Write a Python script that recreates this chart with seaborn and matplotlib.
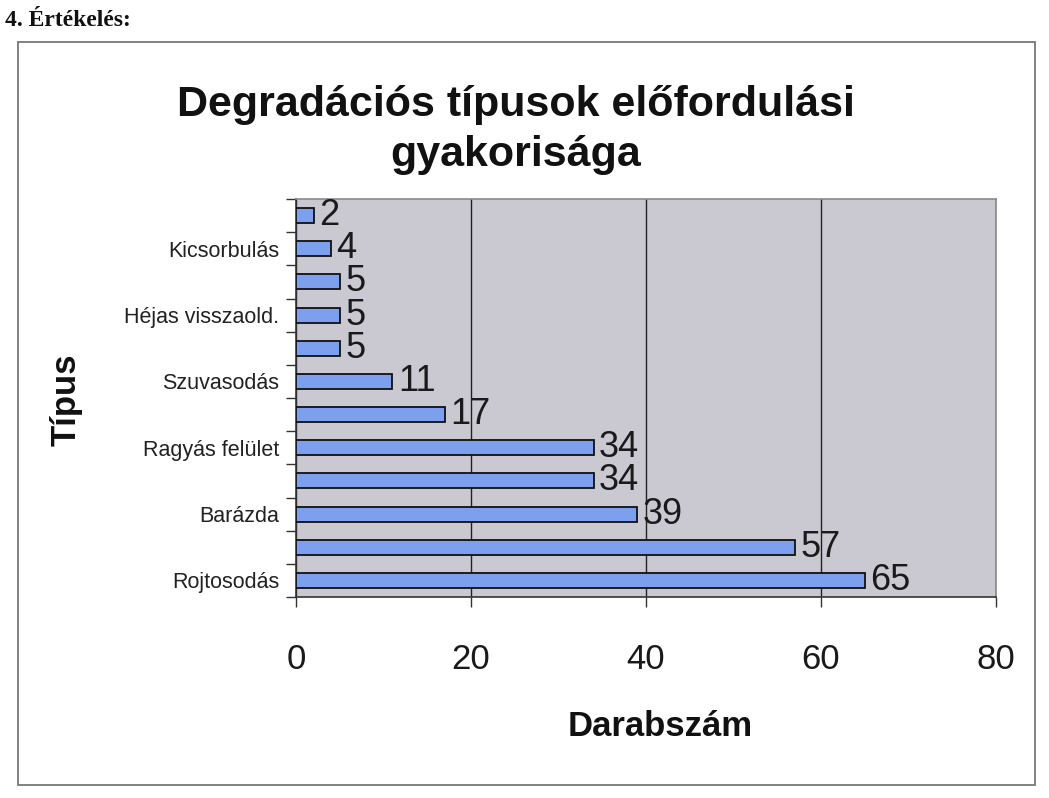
import matplotlib
matplotlib.use("Agg")
import matplotlib.pyplot as plt
import matplotlib.patches as patches
import seaborn as sns
import pandas as pd
import numpy as np

# data, from bottom bar (Rojtosodás) up to the top bar
values = [65, 57, 39, 34, 34, 17, 11, 5, 5, 5, 4, 2]
type_labels = ["Rojtosodás", "", "Barázda", "", "Ragyás felület", "",
               "Szuvasodás", "", "Héjas visszaold.", "", "Kicsorbulás", ""]
x_ticks = [0, 20, 40, 60, 80]

df = pd.DataFrame({"pos": np.arange(len(values)), "count": values})

sns.set_style("white")
plt.rcParams["font.family"] = ["Liberation Sans", "DejaVu Sans"]

fig = plt.figure(figsize=(10.49, 7.98), dpi=100)
W, H = 1049, 798

# outer chart border
fig.patches.append(patches.Rectangle((18 / W, 1 - 785 / H), (1035 - 18) / W, (785 - 42) / H,
                                     transform=fig.transFigure, fill=False,
                                     edgecolor="#777777", linewidth=1.3))

fig.text(5 / W, 1 - 20 / H, "4. Értékelés:", fontfamily=["Liberation Serif", "DejaVu Serif"],
         fontweight="bold", fontsize=17, va="center", ha="left", color="#111111")

ax = fig.add_axes([296 / W, 1 - 597 / H, 700 / W, 398 / H])
ax.set_facecolor("#cac8d0")

sns.barplot(data=df, x="count", y="pos", orient="h", native_scale=True, width=0.45,
            color="#7c9fee", saturation=1, edgecolor="#111111", linewidth=1.3, ax=ax, zorder=3)

for c in ax.containers:
    ax.bar_label(c, padding=4, fontsize=26, color="#1a1a1a")

ax.set_xlim(0, 80)
ax.set_ylim(-0.5, len(values) - 0.5)

# x axis
ax.set_xticks(x_ticks)
ax.set_xticklabels([str(t) for t in x_ticks], fontsize=25, color="#1a1a1a")
ax.tick_params(axis="x", direction="out", length=7, width=1, pad=26, bottom=True, color="#333333")
ax.xaxis.grid(True, color="#222222", linewidth=1.0, zorder=1)
ax.yaxis.grid(False)

# y axis: tick marks between bars, labels on every other bar
ax.set_yticks(np.arange(-0.5, len(values), 1))
ax.set_yticklabels([])
ax.set_yticks(np.arange(len(values)), minor=True)
ax.set_yticklabels(type_labels, minor=True, fontsize=15.5, color="#222222")
ax.tick_params(axis="y", which="major", direction="out", length=7, width=1, left=True, color="#333333")
ax.tick_params(axis="y", which="minor", length=0, pad=12)

for side in ["left", "bottom"]:
    ax.spines[side].set_color("#333333")
    ax.spines[side].set_linewidth(1.2)
for side in ["top", "right"]:
    ax.spines[side].set_color("#8a8a8a")
    ax.spines[side].set_linewidth(1.2)

ax.set_xlabel("")
ax.set_ylabel("")

fig.text(0.492, 1 - 130 / H, "Degradációs típusok előfordulási\ngyakorisága", ha="center",
         va="center", fontsize=31, fontweight="bold", linespacing=1.3, color="#111111")
fig.text(66 / W, 1 - 400 / H, "Típus", rotation=90, ha="center", va="center",
         fontsize=25, fontweight="bold", color="#111111")
fig.text(660 / W, 1 - 727 / H, "Darabszám", ha="center", va="center",
         fontsize=25, fontweight="bold", color="#111111")

fig.savefig("out.png", dpi=100)
